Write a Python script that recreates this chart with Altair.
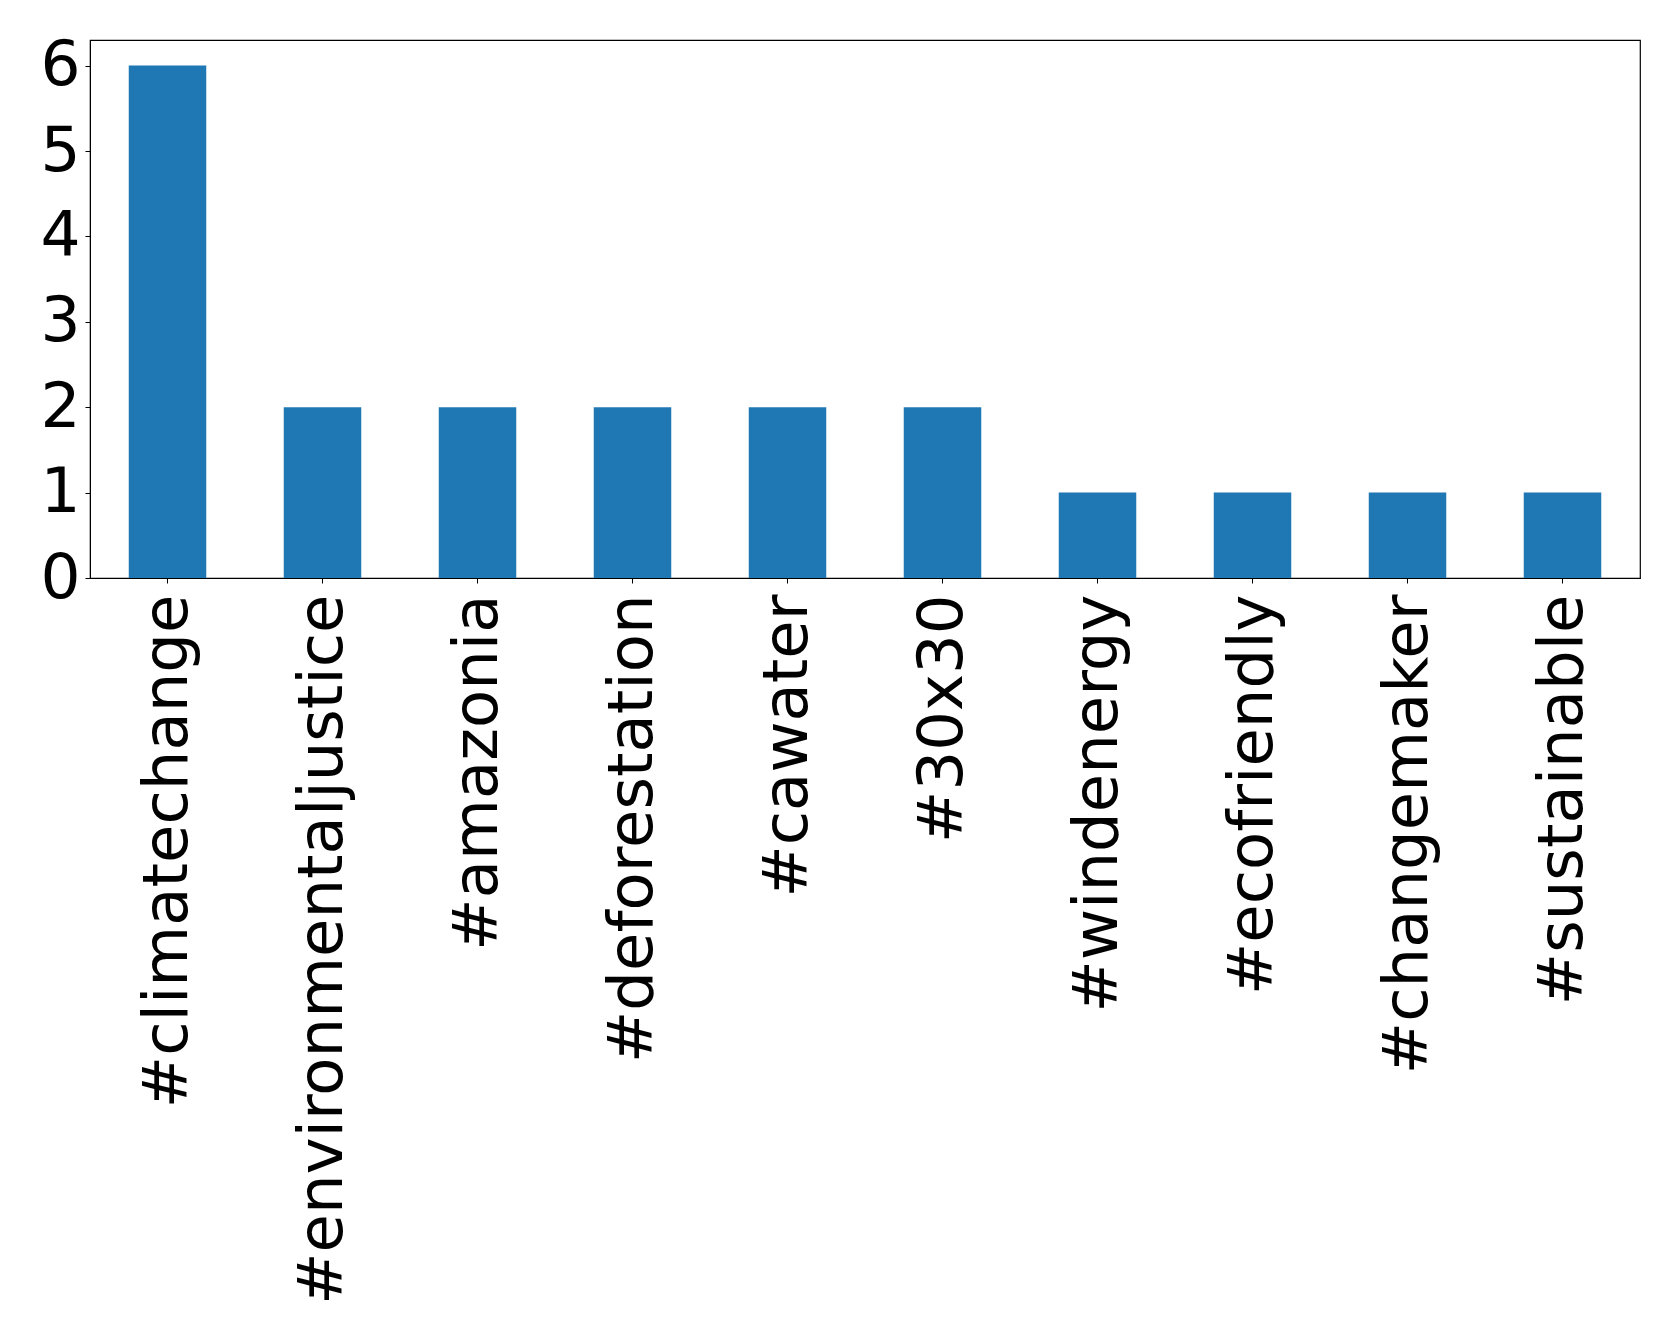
import altair as alt
import pandas as pd

hashtags = ["#climatechange", "#environmentaljustice", "#amazonia", "#deforestation",
            "#cawater", "#30x30", "#windenergy", "#ecofriendly", "#changemaker", "#sustainable"]
counts = [6, 2, 2, 2, 2, 2, 1, 1, 1, 1]
y_ticks = [0, 1, 2, 3, 4, 5, 6]

df = pd.DataFrame({"tag": hashtags, "count": counts})

FONT = "DejaVu Sans"
FS = 62.5

chart = alt.Chart(df).mark_bar(color="#1f77b4").encode(
    x=alt.X("tag:N", sort=hashtags, title=None,
            scale=alt.Scale(paddingInner=0.5, paddingOuter=0.25),
            axis=alt.Axis(labelAngle=270, labelAlign="right", labelBaseline="middle",
                          labelFont=FONT, labelFontSize=FS, labelColor="black",
                          labelPadding=11, tickSize=5, tickColor="black",
                          domainColor="black", labelLimit=2000, grid=False)),
    y=alt.Y("count:Q", title=None,
            scale=alt.Scale(domain=[0, 6.3], nice=False, zero=True),
            axis=alt.Axis(values=y_ticks, format="d", labelFont=FONT, labelFontSize=63,
                          labelColor="black", labelPadding=5, tickSize=5,
                          tickColor="black", domainColor="black", grid=False,
                          minExtent=77, maxExtent=77)),
).properties(
    width=1550, height=538,
    padding={"left": 5, "top": 26, "right": 5, "bottom": 5},
).configure(
    background="white",
    view=alt.ViewConfig(stroke="black", strokeWidth=1.2),
)

chart.save("out.html", embed_options={"renderer": "svg", "actions": False})
